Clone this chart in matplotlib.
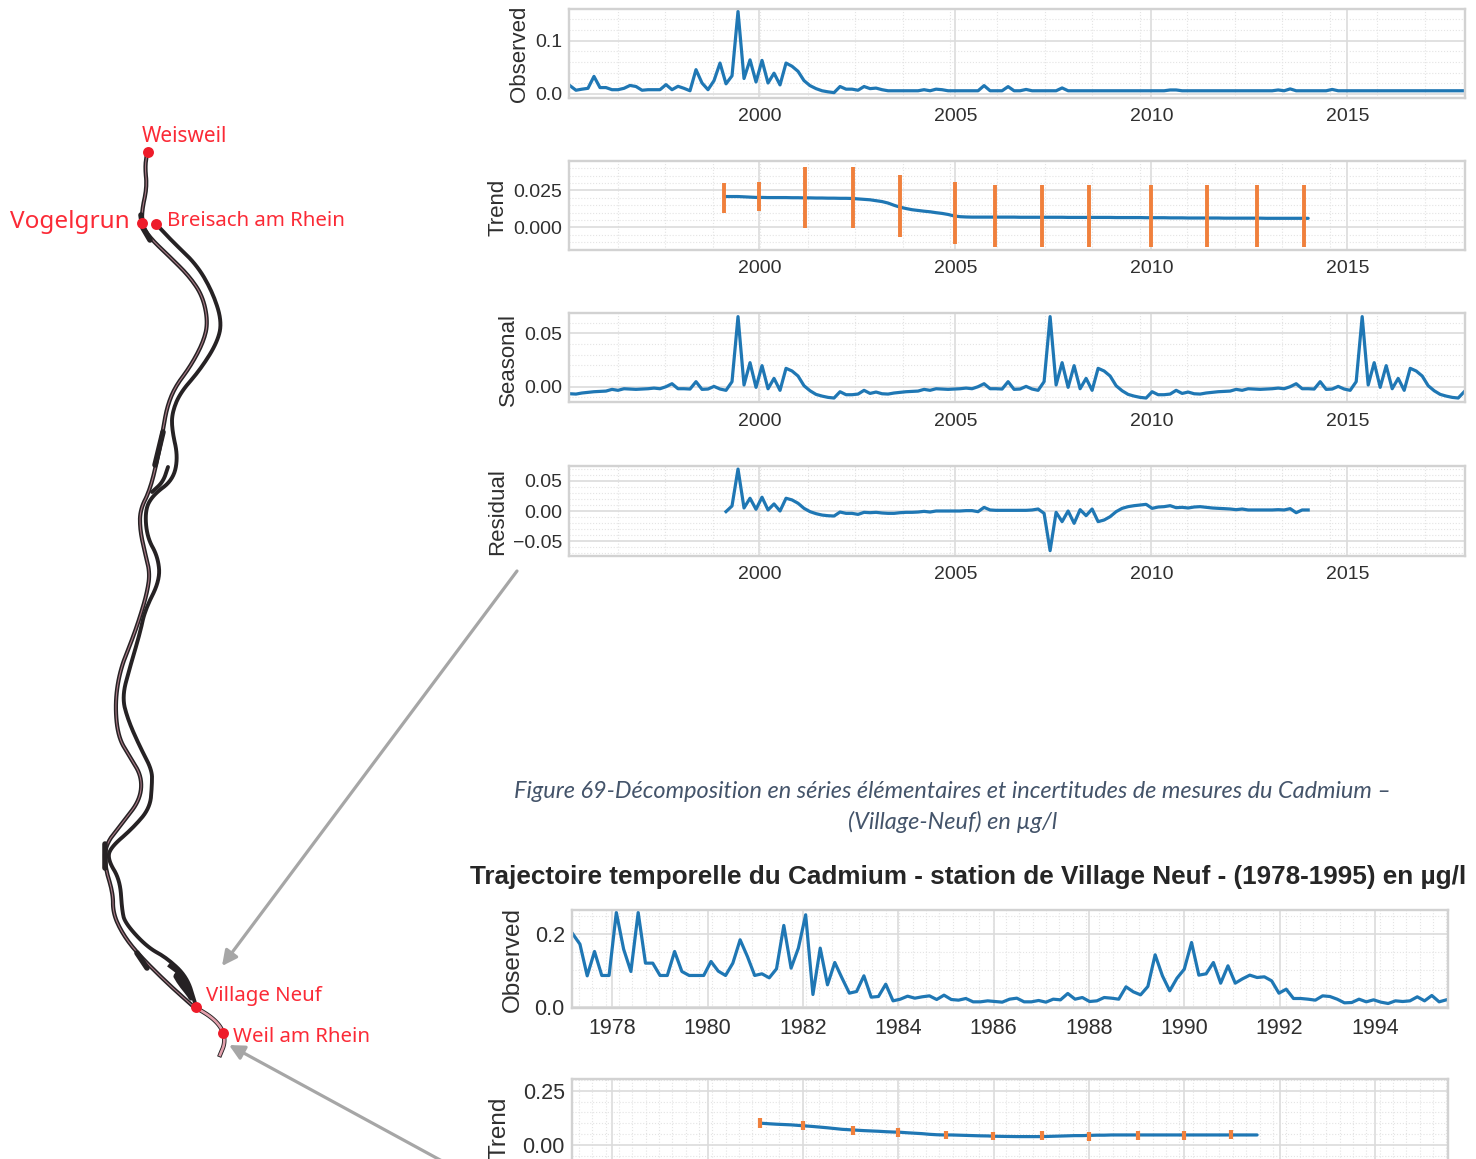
import logging
import numpy as np
import matplotlib
matplotlib.use("Agg")
import matplotlib.pyplot as plt
from matplotlib.ticker import FixedLocator
logging.getLogger('matplotlib.font_manager').setLevel(logging.ERROR)

plt.rcParams['font.family'] = ['Liberation Sans']

W, H = 1476, 1159
BLUE, ORANGE = '#1f77b4', '#f0803c'
RED = '#fb2a36'
TXT = '#2f2f2f'

# ---------- upper decomposition (Cadmium, Village-Neuf) ----------
obs_top = [.0156,.007,.009,.0106,.033,.012,.012,.008,.008,.0106,
           .016,.014,.007,.008,.008,.008,.0175,.008,.0144,.0106,
           .006,.0456,.0206,.008,.025,.058,.019,.034,.155,.029,
           .064,.0225,.063,.0206,.039,.017,.058,.052,.0425,.025,
           .0156,.01,.006,.004,.0025,.014,.009,.009,.007,.014,
           .01,.011,.008,.006,.006,.006,.006,.006,.006,.008,
           .006,.009,.008,.006,.006,.006,.006,.006,.006,.0157,
           .006,.006,.006,.0138,.006,.006,.0085,.006,.006,.006,
           .006,.006,.0113,.006,.006,.006,.006,.006,.006,.006,
           .006,.006,.006,.006,.006,.006,.006,.006,.006,.006,
           .0075,.0075,.006,.006,.006,.006,.006,.006,.006,.006,
           .006,.006,.006,.006,.006,.006,.006,.006,.0075,.006,
           .0095,.006,.006,.006,.006,.006,.006,.0085,.006,.006,
           .006,.006,.006,.006,.006,.006,.006,.006,.006,.006,
           .006,.006,.006,.006,.006,.006,.006,.006,.006,.006]
trend_top = [.0209,.0209,.0209,.0207,.0205,.0203,.0203,.0202,.0202,.0202,
             .0202,.0201,.0201,.0200,.0200,.0199,.0199,.0198,.0198,.0197,
             .0197,.0196,.0193,.0190,.0187,.0181,.0175,.0165,.0150,.0137,
             .0128,.0120,.0115,.0110,.0106,.0100,.0095,.0088,.0078,.0073,
             .0071,.0070,.0070,.0070,.0070,.0070,.0070,.0070,.0070,.0069,
             .0069,.0069,.0069,.0069,.0069,.0069,.0069,.0068,.0068,.0068,
             .0068,.0068,.0068,.0068,.0068,.0067,.0067,.0067,.0067,.0067,
             .0066,.0066,.0066,.0066,.0065,.0065,.0065,.0064,.0064,.0064,
             .0064,.0064,.0064,.0063,.0063,.0063,.0063,.0063,.0063,.0063,
             .0062,.0062,.0062,.0062,.0062,.0062,.0062,.0062]
seasonal_top = [-.0066,-.0069,-.0059,-.0053,-.0047,-.0044,-.0041,-.0025,-.0034,-.0019,
                -.0022,-.0025,-.0022,-.0019,-.0013,-.0019,0,.0028,-.0019,-.0019,
                -.0022,.0047,-.0025,-.0022,.0003,-.0022,-.0034,.0047,.0656,.0016,
                .0225,-.0006,.0197,-.0019,.0078,-.0034,.0172,.0147,.01,.0009,
                -.0038,-.0072,-.0088,-.01,-.0106,-.0047,-.0075,-.0075,-.0069,-.0034,
                -.0063,-.005,
                -.0066,-.0069,-.0059,-.0053,-.0047,-.0044,-.0041,-.0025,-.0034,-.0019,
                -.0022,-.0025,-.0022,-.0019,-.0013,-.0019,0,.0028,-.0019,-.0019,
                -.0022,.0047,-.0025,-.0022,.0003,-.0022,-.0034,.0047,.0656,.0016,
                .0225,-.0006,.0197,-.0019,.0078,-.0034,.0172,.0147,.01,.0009,
                -.0038,-.0072,-.0088,-.01,-.0106,-.0047,-.0075,-.0075,-.0069,-.0034,
                -.0063,-.005,
                -.0066,-.0069,-.0059,-.0053,-.0047,-.0044,-.0041,-.0025,-.0034,-.0019,
                -.0022,-.0025,-.0022,-.0019,-.0013,-.0019,0,.0028,-.0019,-.0019,
                -.0022,.0047,-.0025,-.0022,.0003,-.0022,-.0034,.0047,.0656,.0016,
                .0225,-.0006,.0197,-.0019,.0078,-.0034,.0172,.0147,.01,.0009,
                -.0038,-.0072,-.0088,-.01,-.0106,-.0047]
resid_top = [-.001,.0083,.0694,.005,.0211,.0028,.0228,.0017,.0117,0,
             .0211,.0183,.0128,.0044,-.0011,-.0044,-.0067,-.0078,-.0083,-.0017,
             -.0039,-.0039,-.0056,-.0022,-.0028,-.0022,-.0033,-.0039,-.0039,-.0028,
             -.0022,-.0022,-.0017,-.0006,-.0017,0,0,0,0,0,
             .0006,.0006,-.0011,.006,.0017,.0011,.0011,.0011,.0011,.0011,
             .0011,.0017,.0033,-.0039,-.0656,-.0022,-.0176,0,-.0204,.0022,
             -.0077,.0033,-.0176,-.0149,-.0094,-.0011,.0044,.0072,.0088,.0099,
             .011,.0044,.0066,.0072,.0088,.0055,.0061,.005,.0066,.0072,
             .0061,.005,.0044,.0039,.0033,.0022,.0033,.0017,.0017,.0017,
             .0017,.0017,.0022,.0017,.0039,-.0028,.0017,.0017]
err_top_years = [1999.11,2000.0,2001.17,2002.38,2003.59,2004.99,2006.0,2007.2,2008.42,2009.98,2011.42,2012.69,2013.9]
err_top_mid = [.0199,.0211,.0203,.0203,.0146,.0098,.0077,.0077,.0077,.0077,.0077,.0077,.0077]
err_top_half = [.0099,.0098,.0208,.0208,.0208,.0207,.021,.021,.021,.021,.021,.021,.021]

# ---------- lower decomposition (1978-1995) ----------
obs_low = [.2006,.172,.0846,.1518,.0856,.0856,.2594,.1582,.0966,.2594,
           .1196,.1196,.0856,.0856,.1518,.0966,.0856,.0856,.0856,.1242,
           .0975,.0856,.1196,.184,.138,.0856,.0902,.0791,.104,.2236,
           .1058,.161,.253,.0331,.161,.0598,.1214,.0782,.0368,.0414,
           .0846,.0258,.0276,.0616,.0156,.0202,.0285,.023,.0267,.0294,
           .0193,.0313,.0193,.0175,.0221,.0129,.0129,.0156,.0138,.012,
           .0202,.023,.0129,.0129,.0166,.012,.0202,.0184,.0359,.0202,
           .0248,.0138,.0156,.0248,.023,.0202,.0543,.0405,.0322,.0552,
           .1426,.0846,.0432,.0782,.103,.1766,.0865,.0902,.1214,.0644,
           .1122,.0644,.0764,.0865,.08,.0819,.0708,.0368,.0478,.0221,
           .0221,.0202,.0175,.0294,.0276,.0202,.0101,.011,.0202,.0129,
           .0184,.012,.0083,.0156,.0138,.0156,.0267,.0156,.0304,.0129,.0184]
trend_low = [.0998,.0975,.0955,.094,.0925,.090,.0876,.085,.082,.079,
             .0755,.072,.0700,.0680,.066,.0645,.063,.061,.0595,.0584,
             .056,.054,.052,.049,.047,.046,.046,.045,.044,.043,
             .042,.0415,.040,.0395,.039,.0385,.0385,.0384,.0384,.039,
             .040,.041,.042,.043,.043,.044,.045,.045,.046,.046,
             .046,.046,.046,.046,.046,.046,.046,.046,.046,.046,
             .046,.046,.046,.046,.046,.046,.046,.046,.046]
err_low_years = [1981.1,1982.0,1983.05,1984.0,1985.0,1985.99,1987.01,1988.0,1989.03,1990.0,1990.99]
err_low_mid = [.1014,.0891,.0676,.056,.0445,.0415,.043,.04,.0445,.043,.0476]
err_low_half = [.0215,.0223,.0207,.0207,.0184,.0184,.0223,.02,.0207,.0215,.02]

# ---------- river map, traced in picture pixels ----------
river_left_x = [147,145,147,142,142,150,170,190,203,208,203,190,175,167,163,158,150,140,140,145,150,147,140,132,120,115,118,130,142,140,123,105,105,113,113,122,137,167,195]
river_left_y = [153,167,187,210,225,238,257,277,297,323,343,367,387,407,430,457,490,510,530,553,573,593,617,640,670,703,737,757,777,800,822,845,867,893,913,933,953,983,1008]
river_right_x = [157,173,197,213,222,217,200,180,172,172,178,173,153,145,147,158,160,145,140,130,122,128,140,152,152,150,133,110,108,120,122,125,147,167,187,195]
river_right_y = [225,242,265,293,322,343,370,393,413,430,457,480,495,510,537,557,580,610,633,667,697,720,747,770,785,808,828,848,860,880,910,923,947,958,977,1003]
river_branch_x = [168,163,152]
river_branch_y = [467,482,492]
river_down_x = [195,213,223,225,220]
river_down_y = [1007,1018,1030,1043,1055]
river_blob_x = [170,178,186,192,188,180,174,182,188]
river_blob_y = [966,972,984,1000,994,984,974,978,992]
river_thick = [([163,155],[432,465]), ([105,105],[844,868]), ([141,143,150],[215,228,240]),
               ([137,147],[953,968])]
stations = ['Weisweil', 'Vogelgrun', 'Breisach am Rhein', 'Village Neuf', 'Weil am Rhein']
station_x = [147.5,141.5,155.5,196,223]
station_y = [152,223,224,1007,1033]


def smooth(xs, ys, rounds=3):
    pts = np.column_stack([xs, ys]).astype(float)
    for _ in range(rounds):
        q = 0.75*pts[:-1] + 0.25*pts[1:]
        r = 0.25*pts[:-1] + 0.75*pts[1:]
        mid = np.empty((2*len(q), 2))
        mid[0::2] = q
        mid[1::2] = r
        pts = np.vstack([pts[:1], mid, pts[-1:]])
    return pts[:, 0], pts[:, 1]


def add_panel(left, top, right, bottom):
    return fig.add_axes([left/W, 1-bottom/H, (right-left)/W, (bottom-top)/H])


def style(ax, xlim, ylim, xmajor, xminor, ymajor, ylabels, yminor, size, show_x=True):
    ax.set_xlim(*xlim); ax.set_ylim(*ylim)
    ax.set_xticks(xmajor); ax.set_xticklabels([str(v) for v in xmajor])
    ax.set_yticks(ymajor); ax.set_yticklabels(ylabels)
    ax.xaxis.set_minor_locator(FixedLocator(xminor))
    ax.yaxis.set_minor_locator(FixedLocator(yminor))
    ax.grid(True, which='major', color='#dcdcdc', lw=1.2)
    ax.grid(True, which='minor', color='#e4e4e4', lw=0.8, ls=':')
    ax.set_axisbelow(True)
    ax.tick_params(which='both', length=0)
    ax.tick_params(axis='x', which='major', labelsize=size, pad=7.5, labelcolor=TXT, labelbottom=show_x)
    ax.tick_params(axis='y', which='major', labelsize=size, pad=5, labelcolor=TXT)
    for s in ax.spines.values():
        s.set_color('#d2d2d2'); s.set_linewidth(1.7)


def ylabel(text, x, y, size):
    over.text(x, y, text, rotation=90, ha='center', va='center', fontsize=size, color=TXT)


fig = plt.figure(figsize=(W/100, H/100), dpi=100, facecolor='white')

over = fig.add_axes([0, 0, 1, 1], zorder=0)
over.set_xlim(0, W); over.set_ylim(H, 0); over.axis('off')

# river
DARK = '#262224'
for xs, ys in [(river_right_x, river_right_y), (river_branch_x, river_branch_y)]:
    over.plot(*smooth(xs, ys), color=DARK, lw=2.8, solid_capstyle='round')
over.plot(*smooth(river_blob_x, river_blob_y, 1), color=DARK, lw=3.0)
lx, ly = smooth(river_left_x, river_left_y)
over.plot(lx, ly, color=DARK, lw=3.0)
over.plot(lx, ly, color='#a87a86', lw=0.8)
for xs, ys in river_thick:
    over.plot(xs, ys, color=DARK, lw=4.0, solid_capstyle='round')
dx, dy = smooth(river_down_x, river_down_y)
over.plot(dx, dy, color=DARK, lw=3.2)
over.plot(dx, dy, color='#e2a0ac', lw=1.9)
over.scatter(station_x, station_y, s=62, color='#ee1c2a', zorder=5, linewidths=0)

lab_kw = dict(color=RED, family='Noto Sans', fontweight='medium', va='center', ha='left')
over.text(142, 136, stations[0], fontsize=15, **lab_kw)
over.text(10, 222, stations[1], fontsize=17.5, **lab_kw)
over.text(167, 220.5, stations[2], fontsize=14.7, **lab_kw)
over.text(206, 996, stations[3], fontsize=14.7, **lab_kw)
over.text(233, 1037, stations[4], fontsize=14.7, **lab_kw)

# arrows
for start, end in [((517, 571), (222, 966)), ((442, 1161), (229, 1045))]:
    over.annotate('', xy=end, xytext=start,
                  arrowprops=dict(arrowstyle='-|>,head_length=0.9,head_width=0.45',
                                  color='#a6a6a6', lw=2.3, shrinkA=0, shrinkB=0))

# captions
over.text(953, 792, 'Figure 69-Décomposition en séries élémentaires et incertitudes de mesures du Cadmium –',
          family='Lato', style='italic', fontsize=16.9, color='#44546a', ha='center', va='center')
over.text(953, 822, '(Village-Neuf) en µg/l', family='Lato', style='italic', fontsize=16.9,
          color='#44546a', ha='center', va='center')
over.text(470, 877, 'Trajectoire temporelle du Cadmium - station de Village Neuf - (1978-1995) en µg/l',
          fontsize=18.85, fontweight='bold', color='#262626', ha='left', va='center')

# upper panels
x_top = np.linspace(1995.17, 2017.98, len(obs_top))
xl_top = (1995.153, 2018.0)
xt_top = [2000, 2005, 2010, 2015]
xm_top = list(np.arange(1996.39, 2018, 1.2105))
lw_data = 2.3

a = add_panel(569.3, 8.5, 1465, 97.8)
style(a, xl_top, (-.0072, .1604), xt_top, xm_top, [0, .1], ['0.0', '0.1'], [.02, .04, .06, .08, .12, .14], 14)
a.plot(x_top, obs_top, color=BLUE, lw=lw_data)
ylabel('Observed', 519, 54, 16)

a = add_panel(569.3, 161, 1465, 250)
style(a, xl_top, (-.0152, .0449), xt_top, xm_top, [0, .025], ['0.000', '0.025'],
      [-.01, -.005, .005, .01, .015, .02, .03, .035, .04], 14)
a.plot(x_top[26:26+len(trend_top)], trend_top, color=BLUE, lw=lw_data, solid_capstyle='round')
a.errorbar(err_top_years, err_top_mid, yerr=err_top_half, fmt='none', ecolor=ORANGE, elinewidth=2.8)
ylabel('Trend', 498, 207, 16)

a = add_panel(569.3, 313.3, 1465, 402.3)
style(a, xl_top, (-.0146, .0687), xt_top, xm_top, [0, .05], ['0.00', '0.05'],
      [-.01, .01, .02, .03, .04, .06], 14)
a.plot(x_top, seasonal_top, color=BLUE, lw=lw_data)
ylabel('Seasonal', 508, 359, 16)

a = add_panel(569.3, 466, 1465, 555.7)
style(a, xl_top, (-.0739, .0744), xt_top, xm_top, [-.05, 0, .05], ['−0.05', '0.00', '0.05'],
      [-.07, -.06, -.04, -.03, -.02, -.01, .01, .02, .03, .04, .06, .07], 14)
a.plot(x_top[26:26+len(resid_top)], resid_top, color=BLUE, lw=lw_data)
ylabel('Residual', 498, 512, 16)

# lower panels
x_low = np.linspace(1977.17, 1995.5, len(obs_low))
xl_low = (1977.15, 1995.54)
xt_low = list(range(1978, 1996, 2))
xm_low = list(np.arange(1977.3, 1995.5, 0.28))

a = add_panel(571.7, 910, 1448.3, 1007.7)
style(a, xl_low, (-.0033, .2662), xt_low, xm_low, [0, .2], ['0.0', '0.2'], [.05, .1, .15, .25], 15.5)
a.plot(x_low, obs_low, color=BLUE, lw=lw_data)
ylabel('Observed', 513, 960, 17.5)

a = add_panel(571.7, 1078.5, 1448.3, 1176)
style(a, xl_low, (-.143, .306), xt_low, xm_low, [0, .25], ['0.00', '0.25'],
      [-.1, -.05, .05, .1, .15, .2, .3], 15.5, show_x=False)
a.plot(x_low[26:26+len(trend_low)], trend_low, color=BLUE, lw=lw_data, solid_capstyle='round')
a.errorbar(err_low_years, err_low_mid, yerr=err_low_half, fmt='none', ecolor=ORANGE, elinewidth=3.0)
ylabel('Trend', 500, 1128, 17.5)

fig.savefig('out.png', dpi=100, facecolor='white')
